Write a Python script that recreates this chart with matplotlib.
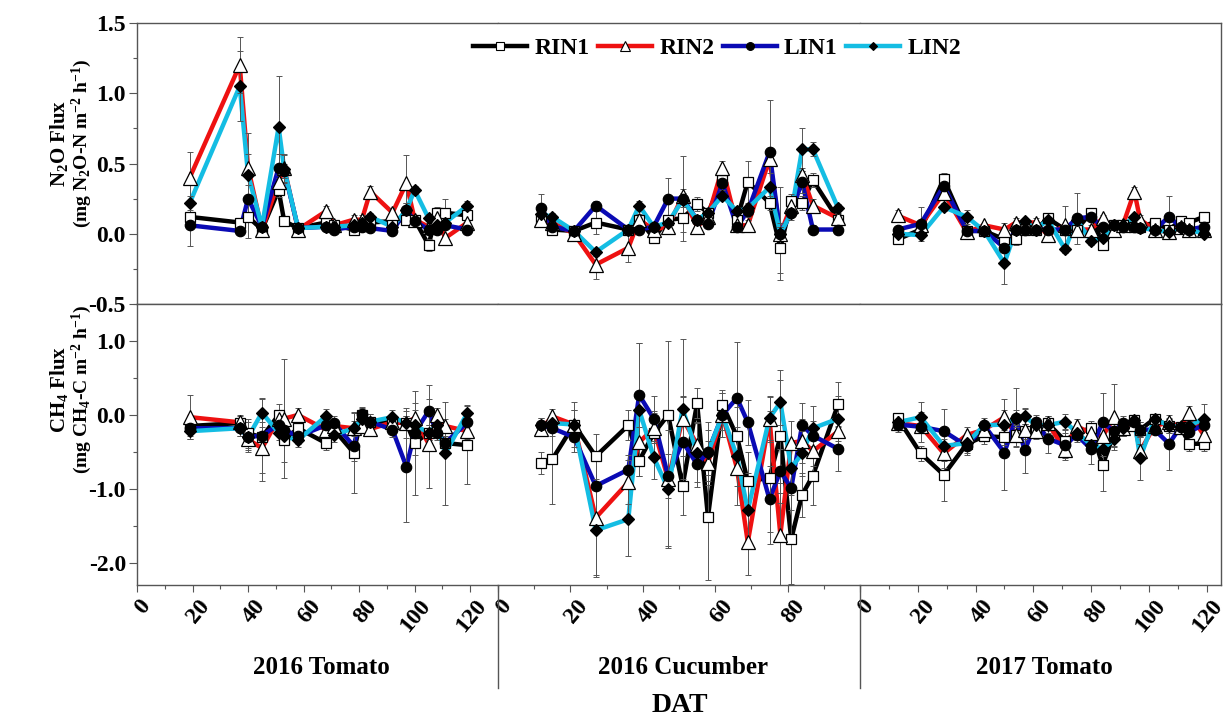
import numpy as np
import matplotlib.pyplot as plt
from matplotlib.lines import Line2D
from matplotlib.transforms import ScaledTranslation
from matplotlib.ticker import MultipleLocator, FormatStrFormatter

plt.rcParams['font.family'] = ['Liberation Serif', 'DejaVu Serif']
plt.rcParams['font.weight'] = 'bold'
plt.rcParams['mathtext.fontset'] = 'custom'
plt.rcParams['mathtext.rm'] = 'Liberation Serif:bold'
plt.rcParams['mathtext.bf'] = 'Liberation Serif:bold'
plt.rcParams['mathtext.it'] = 'Liberation Serif:bold:italic'
plt.rcParams['mathtext.default'] = 'rm'

# --- sampling days (DAT) per season ---
dat_t16 = [19, 37, 40, 45, 51, 53, 58, 68, 71, 78, 81, 84, 92, 97, 100, 105, 108, 111, 119]
dat_c16 = [12, 15, 21, 27, 36, 39, 43, 47, 51, 55, 58, 62, 66, 69, 75, 78, 81, 84, 87, 94]
dat_t17 = [13, 21, 29, 37, 43, 50, 54, 57, 61, 65, 71, 75, 80, 84, 88, 91, 95, 97, 102, 107, 111, 114, 119]

seasons = ['2016 Tomato', '2016 Cucumber', '2017 Tomato']
season_max = [130, 100, 125]
treatments = ['RIN1', 'RIN2', 'LIN1', 'LIN2']

# --- N2O flux, 2016 tomato ---
n2o_t16_rin1 = [0.12, 0.08, 0.12, 0.03, 0.31, 0.09, 0.04, 0.08, 0.06, 0.03, 0.06, 0.08, 0.09, 0.10, 0.10, -0.08, 0.15, 0.15, 0.13]
n2o_t16_rin2 = [0.40, 1.20, 0.47, 0.03, 0.37, 0.47, 0.03, 0.16, 0.06, 0.10, 0.10, 0.30, 0.15, 0.36, 0.10, 0.05, 0.11, -0.03, 0.08]
n2o_t16_lin1 = [0.06, 0.02, 0.25, 0.05, 0.47, 0.45, 0.04, 0.05, 0.03, 0.05, 0.05, 0.04, 0.02, 0.17, 0.09, 0.03, 0.03, 0.06, 0.03]
n2o_t16_lin2 = [0.22, 1.05, 0.42, 0.05, 0.76, 0.46, 0.04, 0.05, 0.05, 0.06, 0.08, 0.12, 0.05, 0.17, 0.31, 0.11, 0.06, 0.08, 0.20]
n2o_t16_rin1_se = [0.03, 0.03, 0.15, 0.02, 0.05, 0.03, 0.02, 0.03, 0.02, 0.02, 0.02, 0.03, 0.03, 0.04, 0.03, 0.04, 0.04, 0.10, 0.03]
n2o_t16_rin2_se = [0.18, 0.20, 0.25, 0.03, 0.05, 0.10, 0.02, 0.04, 0.03, 0.03, 0.03, 0.04, 0.03, 0.20, 0.03, 0.03, 0.04, 0.03, 0.03]
n2o_t16_lin1_se = [0.15, 0.03, 0.10, 0.02, 0.10, 0.05, 0.02, 0.02, 0.02, 0.02, 0.02, 0.02, 0.02, 0.05, 0.03, 0.02, 0.02, 0.02, 0.02]
n2o_t16_lin2_se = [0.05, 0.25, 0.15, 0.02, 0.36, 0.10, 0.02, 0.02, 0.02, 0.02, 0.02, 0.03, 0.02, 0.05, 0.03, 0.03, 0.03, 0.03, 0.03]

# --- N2O flux, 2016 cucumber ---
n2o_c16_rin1 = [0.10, 0.03, 0.02, 0.08, 0.03, 0.10, -0.03, 0.10, 0.11, 0.21, 0.15, 0.38, 0.10, 0.37, 0.22, -0.10, 0.23, 0.22, 0.38, 0.10]
n2o_c16_rin2 = [0.10, 0.08, 0.00, -0.22, -0.10, 0.10, 0.03, 0.05, 0.27, 0.05, 0.12, 0.47, 0.06, 0.06, 0.53, 0.00, 0.20, 0.42, 0.20, 0.11]
n2o_c16_lin1 = [0.18, 0.05, 0.02, 0.20, 0.03, 0.03, 0.05, 0.25, 0.25, 0.10, 0.07, 0.36, 0.05, 0.16, 0.58, 0.00, 0.15, 0.37, 0.03, 0.03]
n2o_c16_lin2 = [0.14, 0.12, 0.02, -0.13, 0.03, 0.20, 0.05, 0.08, 0.24, 0.10, 0.15, 0.27, 0.16, 0.18, 0.33, 0.00, 0.15, 0.60, 0.60, 0.18]
n2o_c16_rin1_se = [0.03, 0.02, 0.03, 0.08, 0.03, 0.03, 0.03, 0.03, 0.10, 0.05, 0.03, 0.05, 0.05, 0.15, 0.05, 0.18, 0.05, 0.05, 0.05, 0.03]
n2o_c16_rin2_se = [0.03, 0.03, 0.05, 0.10, 0.10, 0.04, 0.03, 0.03, 0.05, 0.03, 0.03, 0.05, 0.05, 0.04, 0.05, 0.05, 0.05, 0.05, 0.05, 0.03]
n2o_c16_lin1_se = [0.10, 0.04, 0.03, 0.03, 0.03, 0.03, 0.03, 0.15, 0.30, 0.03, 0.03, 0.05, 0.03, 0.04, 0.37, 0.33, 0.03, 0.08, 0.03, 0.03]
n2o_c16_lin2_se = [0.03, 0.03, 0.03, 0.03, 0.03, 0.03, 0.03, 0.03, 0.05, 0.03, 0.03, 0.03, 0.03, 0.03, 0.10, 0.05, 0.05, 0.15, 0.05, 0.03]

# --- N2O flux, 2017 tomato ---
n2o_t17_rin1 = [-0.04, 0.03, 0.39, 0.02, 0.02, -0.04, -0.04, 0.03, 0.03, 0.11, 0.03, 0.03, 0.15, -0.08, 0.06, 0.06, 0.05, 0.05, 0.08, 0.03, 0.09, 0.08, 0.12]
n2o_t17_rin2 = [0.13, 0.06, 0.29, 0.01, 0.06, 0.03, 0.08, 0.08, 0.08, -0.01, 0.06, 0.03, 0.03, 0.11, 0.03, 0.06, 0.30, 0.10, 0.03, 0.01, 0.05, 0.03, 0.03]
n2o_t17_lin1 = [0.03, 0.07, 0.34, 0.02, 0.02, -0.10, 0.03, 0.03, 0.03, 0.03, 0.03, 0.11, 0.12, 0.05, 0.06, 0.05, 0.05, 0.04, 0.03, 0.12, 0.05, 0.03, 0.05]
n2o_t17_lin2 = [0.00, -0.01, 0.19, 0.12, 0.02, -0.21, 0.03, 0.09, 0.03, 0.10, -0.11, 0.10, -0.05, -0.03, 0.06, 0.06, 0.12, 0.04, 0.03, 0.01, 0.04, 0.03, 0.00]
n2o_t17_rin1_se = [0.02, 0.02, 0.04, 0.02, 0.02, 0.03, 0.04, 0.03, 0.03, 0.02, 0.02, 0.02, 0.03, 0.03, 0.02, 0.02, 0.02, 0.02, 0.02, 0.02, 0.02, 0.02, 0.02]
n2o_t17_rin2_se = [0.04, 0.03, 0.05, 0.02, 0.02, 0.05, 0.03, 0.03, 0.03, 0.03, 0.14, 0.03, 0.03, 0.02, 0.02, 0.02, 0.03, 0.03, 0.02, 0.02, 0.02, 0.02, 0.02]
n2o_t17_lin1_se = [0.02, 0.12, 0.04, 0.02, 0.02, 0.03, 0.03, 0.02, 0.02, 0.02, 0.02, 0.18, 0.03, 0.02, 0.02, 0.02, 0.02, 0.02, 0.02, 0.15, 0.02, 0.02, 0.02]
n2o_t17_lin2_se = [0.02, 0.02, 0.03, 0.05, 0.02, 0.15, 0.03, 0.02, 0.02, 0.02, 0.03, 0.03, 0.03, 0.03, 0.02, 0.02, 0.02, 0.02, 0.02, 0.02, 0.02, 0.02, 0.02]

# --- CH4 flux, 2016 tomato ---
ch4_t16_rin1 = [-0.15, -0.11, -0.25, -0.30, 0.00, -0.34, -0.18, -0.38, -0.20, -0.51, 0.00, -0.09, -0.10, -0.11, -0.38, -0.24, -0.20, -0.38, -0.41]
ch4_t16_rin2 = [-0.03, -0.10, -0.33, -0.45, -0.05, -0.05, 0.00, -0.20, -0.15, -0.18, -0.15, -0.19, -0.10, -0.11, -0.04, -0.39, 0.00, -0.15, -0.22]
ch4_t16_lin1 = [-0.18, -0.18, -0.30, -0.28, -0.13, -0.20, -0.29, -0.14, -0.11, -0.42, 0.01, -0.09, -0.20, -0.70, -0.24, 0.05, -0.24, -0.38, -0.10]
ch4_t16_lin2 = [-0.22, -0.18, -0.30, 0.03, -0.24, -0.29, -0.34, -0.02, -0.27, -0.18, -0.06, -0.09, -0.03, -0.11, -0.14, -0.24, -0.13, -0.52, 0.03]
ch4_t16_rin1_se = [0.10, 0.10, 0.20, 0.20, 0.15, 0.30, 0.10, 0.10, 0.10, 0.55, 0.10, 0.10, 0.10, 0.20, 0.70, 0.10, 0.10, 0.10, 0.53]
ch4_t16_rin2_se = [0.30, 0.10, 0.15, 0.45, 0.10, 0.80, 0.10, 0.10, 0.10, 0.20, 0.10, 0.05, 0.10, 0.10, 0.20, 0.60, 0.10, 0.10, 0.10]
ch4_t16_lin1_se = [0.10, 0.10, 0.20, 0.50, 0.10, 0.10, 0.10, 0.10, 0.10, 0.20, 0.10, 0.10, 0.10, 0.75, 0.30, 0.35, 0.10, 0.10, 0.15]
ch4_t16_lin2_se = [0.10, 0.10, 0.10, 0.20, 0.10, 0.10, 0.10, 0.10, 0.10, 0.10, 0.10, 0.05, 0.10, 0.10, 0.10, 0.10, 0.10, 0.70, 0.10]

# --- CH4 flux, 2016 cucumber ---
ch4_c16_rin1 = [-0.65, -0.60, -0.13, -0.56, -0.14, -0.62, -0.25, 0.00, -0.96, 0.16, -1.38, 0.14, -0.29, -0.90, -0.85, -0.29, -1.68, -1.08, -0.82, 0.15]
ch4_c16_rin2 = [-0.19, -0.02, -0.13, -1.39, -0.91, -0.37, -0.18, -0.87, -0.05, -0.40, -0.65, 0.00, -0.72, -1.72, -0.06, -1.62, -0.38, -0.35, -0.49, -0.22]
ch4_c16_lin1 = [-0.14, -0.18, -0.30, -0.96, -0.74, 0.27, -0.05, -0.83, -0.36, -0.67, -0.50, 0.00, 0.23, -0.10, -1.14, -0.76, -0.99, -0.14, -0.28, -0.46]
ch4_c16_lin2 = [-0.14, -0.11, -0.13, -1.56, -1.41, 0.07, -0.57, -1.00, 0.08, -0.51, -0.51, 0.00, -0.56, -1.29, -0.04, 0.17, -0.72, -0.52, -0.18, -0.05]
ch4_c16_rin1_se = [0.15, 0.60, 0.30, 0.30, 0.20, 0.20, 0.30, 1.00, 0.40, 0.20, 0.85, 0.20, 0.40, 0.40, 0.90, 0.90, 0.60, 0.30, 0.40, 0.30]
ch4_c16_rin2_se = [0.10, 0.10, 0.20, 0.80, 0.30, 0.20, 0.20, 0.90, 0.30, 0.30, 0.30, 0.20, 0.50, 0.45, 0.30, 0.70, 0.30, 0.30, 0.20, 0.30]
ch4_c16_lin1_se = [0.10, 0.10, 0.20, 0.40, 0.20, 0.70, 0.30, 0.30, 0.60, 0.30, 0.40, 0.30, 0.75, 0.30, 0.45, 0.30, 0.30, 0.30, 0.20, 0.30]
ch4_c16_lin2_se = [0.10, 0.10, 0.20, 0.60, 0.50, 0.90, 0.30, 0.80, 0.95, 0.40, 0.30, 0.30, 0.40, 0.50, 0.30, 0.30, 0.30, 0.30, 0.30, 0.30]

# --- CH4 flux, 2017 tomato ---
ch4_t17_rin1 = [-0.04, -0.52, -0.81, -0.39, -0.29, -0.30, -0.27, -0.22, -0.20, -0.11, -0.35, -0.24, -0.18, -0.68, -0.25, -0.18, -0.07, -0.20, -0.05, -0.15, -0.16, -0.39, -0.39]
ch4_t17_rin2 = [-0.11, -0.15, -0.52, -0.27, -0.20, -0.03, -0.27, -0.20, -0.22, -0.11, -0.48, -0.15, -0.25, -0.29, -0.03, -0.18, -0.12, -0.49, -0.15, -0.10, -0.16, 0.02, -0.27]
ch4_t17_lin1 = [-0.13, -0.16, -0.22, -0.42, -0.14, -0.51, -0.04, -0.48, -0.10, -0.32, -0.41, -0.27, -0.46, -0.10, -0.22, -0.11, -0.09, -0.20, -0.20, -0.39, -0.16, -0.23, -0.13]
ch4_t17_lin2 = [-0.10, -0.03, -0.42, -0.38, -0.14, -0.13, -0.04, -0.02, -0.14, -0.14, -0.09, -0.24, -0.40, -0.46, -0.33, -0.18, -0.07, -0.58, -0.05, -0.15, -0.16, -0.15, -0.05]
ch4_t17_rin1_se = [0.05, 0.10, 0.35, 0.15, 0.10, 0.10, 0.15, 0.10, 0.10, 0.10, 0.10, 0.10, 0.10, 0.35, 0.10, 0.10, 0.05, 0.10, 0.05, 0.10, 0.05, 0.10, 0.10]
ch4_t17_rin2_se = [0.05, 0.10, 0.20, 0.10, 0.10, 0.25, 0.10, 0.30, 0.10, 0.10, 0.10, 0.10, 0.10, 0.20, 0.45, 0.10, 0.05, 0.10, 0.05, 0.10, 0.05, 0.10, 0.10]
ch4_t17_lin1_se = [0.10, 0.20, 0.30, 0.10, 0.05, 0.50, 0.40, 0.30, 0.10, 0.20, 0.20, 0.10, 0.20, 0.40, 0.20, 0.10, 0.05, 0.10, 0.05, 0.35, 0.05, 0.10, 0.10]
ch4_t17_lin2_se = [0.05, 0.20, 0.20, 0.10, 0.10, 0.20, 0.10, 0.10, 0.10, 0.10, 0.10, 0.10, 0.10, 0.10, 0.10, 0.10, 0.05, 0.30, 0.05, 0.10, 0.05, 0.10, 0.20]

# group the arrays per panel / season
days = [dat_t16, dat_c16, dat_t17]
n2o = [[n2o_t16_rin1, n2o_t16_rin2, n2o_t16_lin1, n2o_t16_lin2],
       [n2o_c16_rin1, n2o_c16_rin2, n2o_c16_lin1, n2o_c16_lin2],
       [n2o_t17_rin1, n2o_t17_rin2, n2o_t17_lin1, n2o_t17_lin2]]
n2o_se = [[n2o_t16_rin1_se, n2o_t16_rin2_se, n2o_t16_lin1_se, n2o_t16_lin2_se],
          [n2o_c16_rin1_se, n2o_c16_rin2_se, n2o_c16_lin1_se, n2o_c16_lin2_se],
          [n2o_t17_rin1_se, n2o_t17_rin2_se, n2o_t17_lin1_se, n2o_t17_lin2_se]]
ch4 = [[ch4_t16_rin1, ch4_t16_rin2, ch4_t16_lin1, ch4_t16_lin2],
       [ch4_c16_rin1, ch4_c16_rin2, ch4_c16_lin1, ch4_c16_lin2],
       [ch4_t17_rin1, ch4_t17_rin2, ch4_t17_lin1, ch4_t17_lin2]]
ch4_se = [[ch4_t16_rin1_se, ch4_t16_rin2_se, ch4_t16_lin1_se, ch4_t16_lin2_se],
          [ch4_c16_rin1_se, ch4_c16_rin2_se, ch4_c16_lin1_se, ch4_c16_lin2_se],
          [ch4_t17_rin1_se, ch4_t17_rin2_se, ch4_t17_lin1_se, ch4_t17_lin2_se]]

colors = ['black', '#ee1111', '#0a0ab4', '#14bde3']
markers = ['s', '^', 'o', 'D']
mfcs = ['white', 'white', 'black', 'black']
msizes = [7.5, 9.5, 7.5, 6]
spine_c = '#555555'

W, H = 1229, 723
fig = plt.figure(figsize=(W / 100, H / 100), dpi=100)
xb = [137, 498, 860, 1221]     # season boundaries in pixels
rows = [(23, 304), (304, 585)]  # top / bottom panel in pixels
shift_small = ScaledTranslation(0.06, 0, fig.dpi_scale_trans)
shift_big = ScaledTranslation(0.01, 0, fig.dpi_scale_trans)


def draw(ax, x, ys, es):
    for i in range(4):
        ax.plot(x, ys[i], color=colors[i], lw=3.2, zorder=2 + i * 0.1)
    for i in range(4):
        ax.errorbar(x, ys[i], yerr=es[i], fmt='none', ecolor='#555555',
                    elinewidth=0.7, capsize=2.5, capthick=0.7, zorder=3)
    for i in range(4):
        ax.plot(x, ys[i], ls='none', marker=markers[i], mfc=mfcs[i], mec='black',
                mew=0.9, ms=msizes[i], zorder=4 + i)


for r, (yt, yb) in enumerate(rows):
    for c in range(3):
        ax = fig.add_axes([xb[c] / W, 1 - yb / H, (xb[c + 1] - xb[c]) / W, (yb - yt) / H])
        if r == 0:
            draw(ax, days[c], n2o[c], n2o_se[c])
            ax.set_ylim(-0.5, 1.5)
            ax.yaxis.set_major_locator(MultipleLocator(0.5))
            ax.yaxis.set_minor_locator(MultipleLocator(0.25))
            ax.tick_params(axis='x', which='both', bottom=False, labelbottom=False)
        else:
            draw(ax, days[c], ch4[c], ch4_se[c])
            ax.set_ylim(-2.3, 1.5)
            ax.yaxis.set_major_locator(MultipleLocator(1.0))
            ax.yaxis.set_minor_locator(MultipleLocator(0.5))
            ax.xaxis.set_minor_locator(MultipleLocator(10))
            ax.tick_params(axis='x', which='major', direction='out', length=5,
                           width=0.8, color=spine_c, labelsize=17, pad=3)
            ax.tick_params(axis='x', which='minor', direction='out', length=3,
                           width=0.8, color=spine_c)
            ticks = np.arange(0, season_max[c] - 4, 20)
            ax.set_xticks(ticks)
            ax.set_xticklabels([str(t) for t in ticks], rotation=50,
                               ha='center', va='top', fontweight='bold')
            for t, lab in zip(ticks, ax.get_xticklabels()):
                lab.set_transform(lab.get_transform() + (shift_big if t >= 100 else shift_small))
        ax.set_xlim(0, season_max[c])
        ax.yaxis.set_major_formatter(FormatStrFormatter('%.1f'))
        for s in ax.spines.values():
            s.set_color(spine_c)
            s.set_linewidth(1.0)
        if c > 0:
            ax.spines['left'].set_visible(False)
            ax.tick_params(axis='y', which='both', left=False, labelleft=False)
        else:
            ax.tick_params(axis='y', which='major', direction='out', length=6,
                           width=0.8, color=spine_c, labelsize=17, pad=2)
            ax.tick_params(axis='y', which='minor', direction='out', length=3,
                           width=0.8, color=spine_c)
        if c < 2:
            ax.spines['right'].set_visible(False)

# season separators below the axis
for xp in xb[1:3]:
    fig.add_artist(Line2D([xp / W, xp / W], [1 - 585 / H, 1 - 688 / H],
                          transform=fig.transFigure, color=spine_c, lw=1.0))

# season names and x-axis title
for c, name in enumerate(seasons):
    fig.text((xb[c] + xb[c + 1]) / 2 / W + 0.003, 1 - 668 / H, name,
             ha='center', va='center', fontsize=18, fontweight='bold')
fig.text(680 / W, 1 - 706 / H, 'DAT', ha='center', va='center', fontsize=20, fontweight='bold')

# y-axis titles
fig.text(59 / W, 1 - 143 / H, r'N$_2$O Flux', rotation=90, ha='center', va='center',
         fontsize=15, fontweight='bold')
fig.text(82 / W, 1 - 143 / H, r'(mg N$_2$O-N m$^{-2}$ h$^{-1}$)', rotation=90,
         ha='center', va='center', fontsize=14, fontweight='bold')
fig.text(59 / W, 1 - 389 / H, r'CH$_4$ Flux', rotation=90, ha='center', va='center',
         fontsize=15, fontweight='bold')
fig.text(82 / W, 1 - 389 / H, r'(mg CH$_4$-C m$^{-2}$ h$^{-1}$)', rotation=90,
         ha='center', va='center', fontsize=14, fontweight='bold')

# legend
handles = [Line2D([], [], color=colors[i], lw=3.2, marker=markers[i], mfc=mfcs[i],
                  mec='black', mew=0.8, ms=msizes[i] * 0.75) for i in range(4)]
fig.legend(handles, treatments, loc='center', bbox_to_anchor=(717 / W, 1 - 48 / H),
           ncol=4, frameon=False, handlelength=2.3, handletextpad=0.3,
           columnspacing=0.35, numpoints=1, prop={'weight': 'bold', 'size': 17})

fig.savefig('out.png', dpi=100)
